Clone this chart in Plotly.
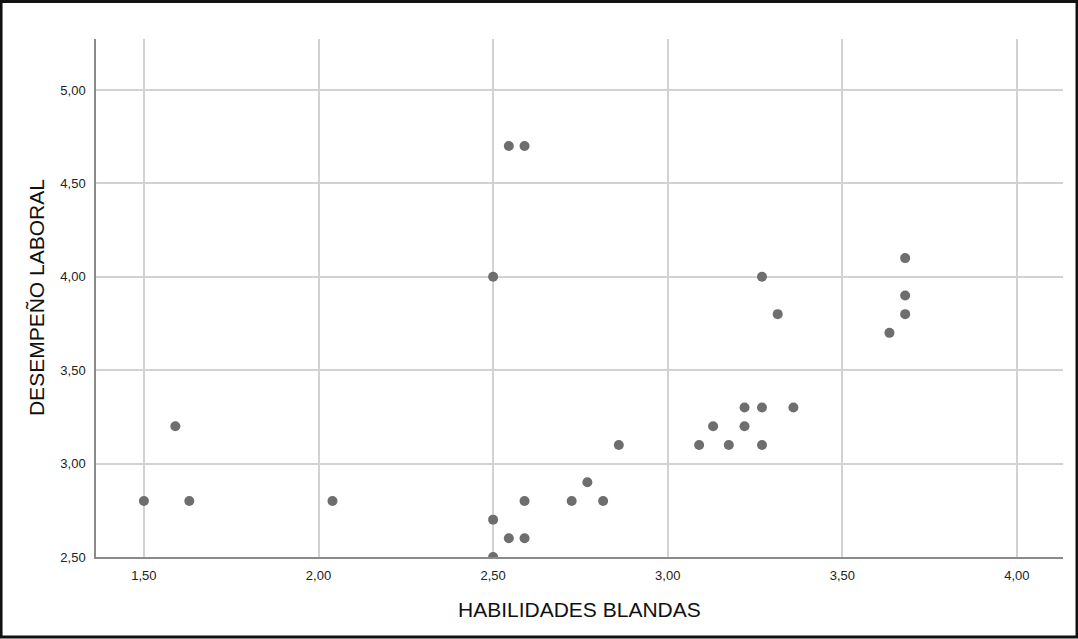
import plotly.graph_objects as go

habilidades = [1.50, 1.59, 1.63, 2.04, 2.50, 2.50, 2.50, 2.545, 2.59, 2.545, 2.59, 2.59,
               2.725, 2.77, 2.815, 2.86, 3.09, 3.175, 3.27, 3.13, 3.22, 3.22, 3.27, 3.36,
               3.27, 3.315, 3.68, 3.68, 3.68, 3.635]
desempeno = [2.80, 3.20, 2.80, 2.80, 2.50, 2.70, 4.00, 4.70, 4.70, 2.60, 2.60, 2.80,
             2.80, 2.90, 2.80, 3.10, 3.10, 3.10, 3.10, 3.20, 3.20, 3.30, 3.30, 3.30,
             4.00, 3.80, 4.10, 3.90, 3.80, 3.70]

x_ticks = [1.5, 2.0, 2.5, 3.0, 3.5, 4.0]
x_labels = ["1,50", "2,00", "2,50", "3,00", "3,50", "4,00"]
y_ticks = [2.5, 3.0, 3.5, 4.0, 4.5, 5.0]
y_labels = ["2,50", "3,00", "3,50", "4,00", "4,50", "5,00"]

x_title = "HABILIDADES BLANDAS"
y_title = "DESEMPEÑO LABORAL"

fig = go.Figure()
fig.add_trace(go.Scatter(
    x=habilidades, y=desempeno, mode="markers",
    marker=dict(size=10, color="#6e6e6e", line=dict(width=0)),
    hoverinfo="x+y", showlegend=False,
))

axis_font = dict(family="Arial, Liberation Sans, sans-serif", size=13, color="#222222")
title_font = dict(family="Arial, Liberation Sans, sans-serif", size=21, color="#111111")

fig.update_layout(
    width=1078, height=639,
    margin=dict(l=96, r=15, t=39, b=82),
    paper_bgcolor="white", plot_bgcolor="white",
    xaxis=dict(
        range=[1.3628, 4.132], tickvals=x_ticks, ticktext=x_labels,
        showgrid=True, gridcolor="#d2d2d2", gridwidth=1.5,
        showline=True, linecolor="#8a8a8a", linewidth=1.5,
        zeroline=False, ticks="", tickfont=axis_font, ticklabelstandoff=6,
    ),
    yaxis=dict(
        range=[2.5, 5.273], tickvals=y_ticks, ticktext=y_labels,
        showgrid=True, gridcolor="#d2d2d2", gridwidth=1.5,
        showline=True, linecolor="#8a8a8a", linewidth=1.5,
        zeroline=False, ticks="", tickfont=axis_font, ticklabelstandoff=6,
    ),
    annotations=[
        dict(text=x_title, xref="paper", yref="paper", x=0.5, y=-0.1014,
             xanchor="center", yanchor="middle", showarrow=False, font=title_font),
        dict(text=y_title, xref="paper", yref="paper", x=-0.062, y=0.5,
             xanchor="center", yanchor="middle", showarrow=False, font=title_font,
             textangle=-90),
    ],
    shapes=[dict(
        type="rect", xref="paper", yref="paper",
        x0=-0.0982, x1=1.0145, y0=-0.1544, y1=1.0724,
        line=dict(color="#111111", width=3), fillcolor="rgba(0,0,0,0)",
        layer="above",
    )],
)

fig.write_html("out.html")
